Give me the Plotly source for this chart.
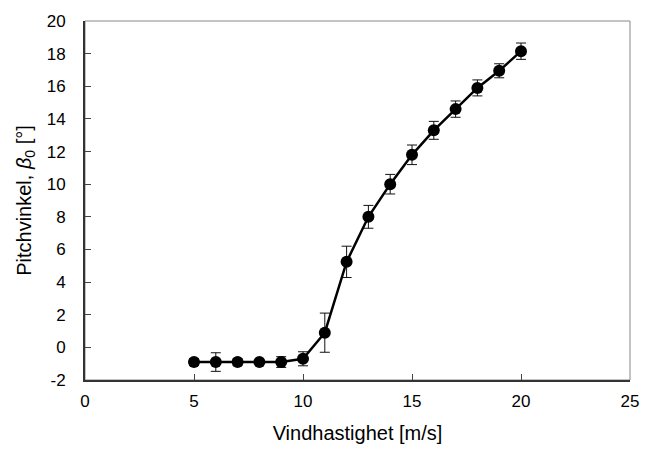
import plotly.graph_objects as go

wind = [5, 6, 7, 8, 9, 10, 11, 12, 13, 14, 15, 16, 17, 18, 19, 20]
pitch = [-0.9, -0.9, -0.9, -0.9, -0.9, -0.7, 0.9, 5.24, 8.0, 10.0, 11.8, 13.3, 14.6, 15.9, 16.95, 18.15]
err = [0.2, 0.57, 0.2, 0.1, 0.33, 0.43, 1.2, 0.96, 0.7, 0.6, 0.6, 0.55, 0.5, 0.49, 0.43, 0.5]

xticks = [0, 5, 10, 15, 20, 25]
yticks = [-2, 0, 2, 4, 6, 8, 10, 12, 14, 16, 18, 20]
ytick_labels = ["-2", "0", "2", "4", "6", "8", "10", "12", "14", "16", "18", "20"]

font = "Liberation Sans, Arial, sans-serif"

fig = go.Figure()
fig.add_trace(go.Scatter(
    x=wind, y=pitch, mode="lines+markers",
    line=dict(color="black", width=2.5),
    marker=dict(color="black", size=12),
    error_y=dict(type="data", array=err, visible=True, color="#111111", thickness=1, width=5),
    showlegend=False,
))

fig.update_layout(
    width=651, height=454,
    margin=dict(l=85, r=14, t=19, b=74),
    paper_bgcolor="white", plot_bgcolor="white",
    font=dict(family=font, size=17, color="black"),
    shapes=[dict(type="rect", xref="paper", yref="paper", x0=0, y0=0, x1=1, y1=1,
                 line=dict(color="#888888", width=1), layer="below")],
)
fig.update_xaxes(
    range=[0, 25], tickvals=xticks, ticks="inside", ticklen=6, tickcolor="#444444",
    showline=True, linecolor="#333333", linewidth=2, showgrid=False, zeroline=False,
    title=dict(text="Vindhastighet [m/s]", standoff=16),
    ticklabelstandoff=5,
)
fig.update_yaxes(
    range=[-2, 20], tickvals=yticks, ticktext=ytick_labels, ticks="inside", ticklen=6,
    tickcolor="#444444",
    showline=True, linecolor="#333333", linewidth=2, showgrid=False, zeroline=False,
    title=dict(text="Pitchvinkel, <i>β</i><sub>0</sub> [°]", standoff=10),
    ticklabelstandoff=14,
)

fig.write_html("out.html")
